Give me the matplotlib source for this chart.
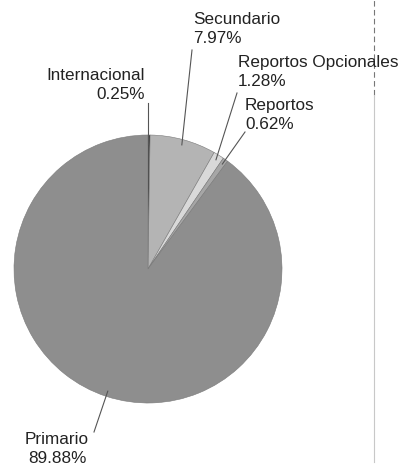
import numpy as np
import matplotlib
matplotlib.use("Agg")
import matplotlib.pyplot as plt

plt.rcParams['font.family'] = ['Liberation Sans', 'DejaVu Sans']

# chart data
categorias = ["Internacional", "Secundario", "Reportos Opcionales", "Reportos", "Primario"]
porcentajes = [0.25, 7.97, 1.28, 0.62, 89.88]
colores = ["#2a2a2a", "#b4b4b4", "#d9d9d9", "#a6a6a6", "#8e8e8e"]

# label text positions (pixels, top-left origin) and alignment
pos_texto = [(145, 85), (193, 29), (238, 72), (245, 115), (57, 449)]
alineacion = ["right", "left", "left", "left", "center"]
# leader line end offsets from the text centre (pixels, top-left origin)
fin_linea = [(3, 18), (-1, 21), (-1, 21), (0, 17), (37, -17)]

W, H = 410, 470
fig = plt.figure(figsize=(W / 100, H / 100), dpi=100)
ax = fig.add_axes([0, 0, 1, 1])

cx, cy, r = 148, H - 269, 134
wedges, _ = ax.pie(porcentajes, colors=colores, startangle=90, counterclock=False,
                   center=(cx, cy), radius=r, frame=True,
                   wedgeprops=dict(edgecolor="#7a7a7a", linewidth=0.4))
ax.set_xlim(0, W)
ax.set_ylim(0, H)
ax.set_aspect("equal")
ax.axis("off")

for w, cat, pct, (tx, ty), ha, (dx, dy) in zip(wedges, categorias, porcentajes,
                                               pos_texto, alineacion, fin_linea):
    ang = np.deg2rad((w.theta1 + w.theta2) / 2)
    ex = cx + r * 0.96 * np.cos(ang)
    ey = cy + r * 0.96 * np.sin(ang)
    if cat == "Internacional":
        ex, ey = cx, cy + r * 0.93
    lx, ly = tx + dx, H - (ty + dy)
    if cat == "Internacional":
        lx = ex
    ax.plot([ex, lx], [ey, ly], color="#555555", lw=0.8)
    ax.text(tx, H - ty, f"{cat}\n{pct:.2f}%", ha=ha, va="center",
            fontsize=12.3, color="#222222", linespacing=1.4)

# border line of the original frame
ax.plot([374, 374], [H - 95, H], color="#777777", lw=0.8, ls=(0, (5, 3)))
ax.plot([374, 374], [H - 462, H - 95], color="#c8c8c8", lw=0.8)

fig.savefig("out.png", dpi=100)
